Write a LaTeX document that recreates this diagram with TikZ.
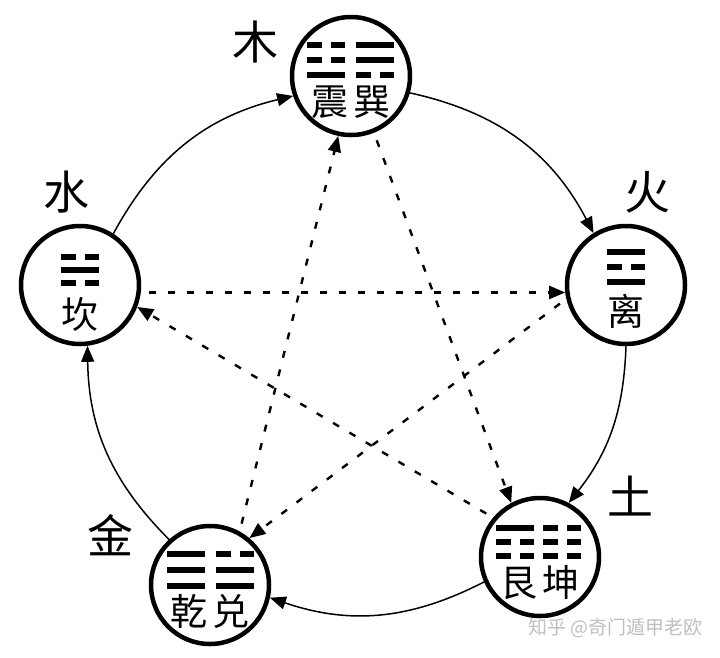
\documentclass[tikz,border=0pt]{standalone}
\usepackage{fontspec}
\newfontfamily\cjk{Noto Sans CJK SC}
\usetikzlibrary{arrows.meta}
\begin{document}
\begin{tikzpicture}[x=1pt,y=-1pt,
  gua/.style={circle,draw,line width=4.5pt,minimum size=118pt,inner sep=0pt},
  inner/.style={font=\cjk\fontsize{37}{37}\selectfont,inner sep=0pt},
  elem/.style={font=\cjk\fontsize{46}{46}\selectfont,inner sep=0pt},
  sheng/.style={line width=1.5pt,-{Triangle[length=16pt,width=13pt]}},
  ke/.style={line width=2.4pt,dash pattern=on 7pt off 12pt,-{Triangle[length=16pt,width=13pt]},shorten <=8pt},
  yang/.pic={\fill (-19,-2.6) rectangle (19,2.6);},
  yin/.pic={\fill (-19,-2.6) rectangle (-4.5,2.6); \fill (4.5,-2.6) rectangle (19,2.6);}
]
\useasboundingbox (0,0) rectangle (720,657);
\fill[white] (0,0) rectangle (720,657);

% circles
\node[gua] (zhen) at (351,76) {};
\node[gua] (li) at (626,285) {};
\node[gua] (gen) at (540,557) {};
\node[gua] (qian) at (210,585) {};
\node[gua] (kan) at (80,285) {};

% element labels
\node[elem] (mu) at (255,42) {木};
\node[elem] (huo) at (647,192) {火};
\node[elem] (tu) at (630,496) {土};
\node[elem] (jin) at (110,535) {金};
\node[elem] (shui) at (66,192) {水};

% trigrams: zhen (yin yin yang), xun (yang yang yin)
\pic at ([shift={(-25,-31)}]zhen.center) {yin};
\pic at ([shift={(-25,-16)}]zhen.center) {yin};
\pic at ([shift={(-25,-1)}]zhen.center) {yang};
\pic at ([shift={(24,-31)}]zhen.center) {yang};
\pic at ([shift={(24,-16)}]zhen.center) {yang};
\pic at ([shift={(24,-1)}]zhen.center) {yin};
\node[inner] (zhenT) at ([shift={(0,26)}]zhen.center) {震\hspace{5pt}巽};

% li (yang yin yang)
\pic at ([shift={(0,-33)}]li.center) {yang};
\pic at ([shift={(0,-18)}]li.center) {yin};
\pic at ([shift={(0,-3)}]li.center) {yang};
\node[inner] (liT) at ([shift={(0,26)}]li.center) {离};

% kan (yin yang yin)
\pic at ([shift={(0,-28)}]kan.center) {yin};
\pic at ([shift={(0,-15)}]kan.center) {yang};
\pic at ([shift={(0,-2)}]kan.center) {yin};
\node[inner] (kanT) at ([shift={(0,29)}]kan.center) {坎};

% gen (yang yin yin), kun (yin yin yin)
\pic at ([shift={(-25,-29)}]gen.center) {yang};
\pic at ([shift={(-25,-15)}]gen.center) {yin};
\pic at ([shift={(-25,-1)}]gen.center) {yin};
\pic at ([shift={(22,-29)}]gen.center) {yin};
\pic at ([shift={(22,-15)}]gen.center) {yin};
\pic at ([shift={(22,-1)}]gen.center) {yin};
\node[inner] (genT) at ([shift={(0,26)}]gen.center) {艮\hspace{5pt}坤};

% qian (yang yang yang), dui (yin yang yang)
\pic at ([shift={(-24,-31)}]qian.center) {yang};
\pic at ([shift={(-24,-15)}]qian.center) {yang};
\pic at ([shift={(-24,1)}]qian.center) {yang};
\pic at ([shift={(25,-31)}]qian.center) {yin};
\pic at ([shift={(25,-15)}]qian.center) {yang};
\pic at ([shift={(25,1)}]qian.center) {yang};
\node[inner] (qianT) at ([shift={(0,26)}]qian.center) {乾\hspace{5pt}兑};

% generating cycle (solid)
\draw[sheng] (kan.57) to[bend left=24] (zhen.199);
\draw[sheng] (zhen.-16) to[bend left=25] (li.122);
\draw[sheng] (li.-90) to[bend left=18] (gen.62);
\draw[sheng] (gen.204) to[bend left=23] (qian.-12);
\draw[sheng] (qian.132) to[bend left=22] (kan.-83);

% controlling cycle (dashed)
\draw[ke] (kan.-7) -- (li.187);
\draw[ke] (li.193) -- (qian.50);
\draw[ke] (qian.61) -- (zhen.-102);
\draw[ke] (zhen.-68) -- (gen.118);
\draw[ke] (gen.140) -- (kan.-21);

% watermark
\node[font=\cjk\fontsize{19}{19}\selectfont,text=black!25,anchor=east,inner sep=0pt] (wm) at (703,628) {知乎 @奇门遁甲老欧};
\end{tikzpicture}
\end{document}
